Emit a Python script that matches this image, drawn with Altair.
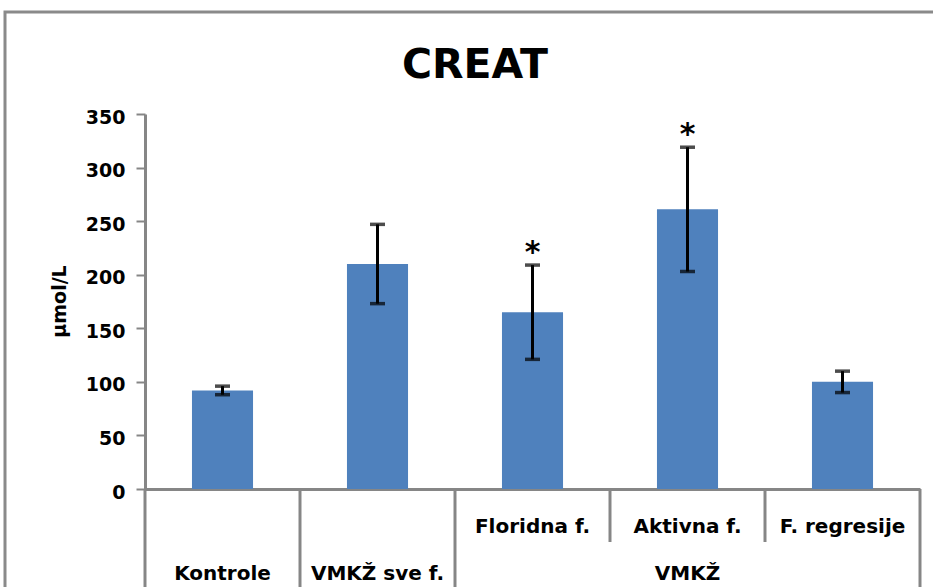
import altair as alt
import pandas as pd

# Creatinine by group: mean and error (µmol/L)
categories = ["Kontrole", "VMKŽ sve f.", "Floridna f.", "Aktivna f.", "F. regresije"]
means = [92, 210, 165, 261, 100]
errors = [4, 37, 44, 58, 10]
marks = ["", "", "*", "*", ""]

# Two-level category axis: inner labels (upper row) and outer labels (lower row)
upper_labels = ["Floridna f.", "Aktivna f.", "F. regresije"]
lower_labels = ["Kontrole", "VMKŽ sve f.", "VMKŽ"]
lower_anchor = ["Kontrole", "VMKŽ sve f.", "Aktivna f."]

# Slot boundaries: full-height separators and short ones inside the VMKŽ group
full_sep_left = ["Kontrole", "VMKŽ sve f.", "Floridna f."]
short_sep_left = ["Aktivna f.", "F. regresije"]
full_sep_right = ["F. regresije"]

FONT = "DejaVu Sans"
BLUE = "#4F81BD"
GRAY = "#868686"

df = pd.DataFrame({"cat": categories, "mean": means, "err": errors, "mark": marks})
df["lo"] = df["mean"] - df["err"]
df["hi"] = df["mean"] + df["err"]

W, H = 775, 375

xscale = alt.Scale(domain=categories, paddingInner=0, paddingOuter=0)
yscale = alt.Scale(domain=[0, 350], nice=False)

x_enc = alt.X("cat:N", scale=xscale, sort=categories,
              axis=alt.Axis(labels=False, ticks=False, title="", domainColor=GRAY,
                            domainWidth=3))
y_enc = alt.Y("mean:Q", scale=yscale,
              axis=alt.Axis(values=list(range(0, 351, 50)), grid=False, title="µmol/L",
                            labelFont=FONT, labelFontWeight="bold", labelFontSize=19,
                            labelColor="black", labelPadding=11, labelOffset=3,
                            domainColor=GRAY, domainWidth=3, tickColor=GRAY,
                            tickWidth=2, tickSize=9,
                            titleFont=FONT, titleFontWeight="bold", titleFontSize=19,
                            titleColor="black", titleAngle=270, titleX=-86, titleY=187,
                            titleAlign="center", titleBaseline="middle"))

base = alt.Chart(df)

bars = base.mark_bar(color=BLUE, width=alt.RelativeBandSize(0.394)).encode(x=x_enc, y=y_enc)

err_rule = base.mark_rule(color="black", strokeWidth=3).encode(
    x=alt.X("cat:N", scale=xscale, sort=categories),
    y=alt.Y("lo:Q", scale=yscale),
    y2="hi:Q",
)

caps = base.transform_fold(["lo", "hi"], as_=["end", "val"]).mark_tick(
    color="black", thickness=3.5, size=15
).encode(
    x=alt.X("cat:N", scale=xscale, sort=categories),
    y=alt.Y("val:Q", scale=yscale),
)

stars = base.transform_filter(alt.datum.mark != "").mark_text(
    font=FONT, fontWeight="bold", fontSize=30, baseline="alphabetic", dy=-3, color="black"
).encode(
    x=alt.X("cat:N", scale=xscale, sort=categories),
    y=alt.Y("hi:Q", scale=yscale),
    text="mark:N",
)

label_style = dict(font=FONT, fontWeight="bold", fontSize=20, baseline="alphabetic",
                   color="black")

upper = alt.Chart(pd.DataFrame({"cat": upper_labels})).mark_text(**label_style).encode(
    x=alt.X("cat:N", scale=xscale, sort=categories),
    y=alt.value(419),
    text="cat:N",
)

lower = alt.Chart(pd.DataFrame({"cat": lower_anchor, "label": lower_labels})).mark_text(
    **label_style
).encode(
    x=alt.X("cat:N", scale=xscale, sort=categories),
    y=alt.value(466),
    text="label:N",
)

sep_style = dict(color=GRAY, strokeWidth=3)

sep_full = alt.Chart(pd.DataFrame({"cat": full_sep_left})).mark_rule(**sep_style).encode(
    x=alt.X("cat:N", scale=xscale, sort=categories, bandPosition=0),
    y=alt.value(H), y2=alt.value(H + 120),
)
sep_short = alt.Chart(pd.DataFrame({"cat": short_sep_left})).mark_rule(**sep_style).encode(
    x=alt.X("cat:N", scale=xscale, sort=categories, bandPosition=0),
    y=alt.value(H), y2=alt.value(H + 53),
)
sep_end = alt.Chart(pd.DataFrame({"cat": full_sep_right})).mark_rule(**sep_style).encode(
    x=alt.X("cat:N", scale=xscale, sort=categories, bandPosition=1),
    y=alt.value(H), y2=alt.value(H + 120),
)

title = alt.Chart(pd.DataFrame({"t": ["CREAT"]})).mark_text(
    font=FONT, fontWeight="bold", fontSize=41, baseline="alphabetic", align="center",
    color="black"
).encode(x=alt.value(330), y=alt.value(-36), text="t:N")

frame = alt.Chart(pd.DataFrame({"f": [0]})).mark_rect(
    fillOpacity=0, stroke="#8a8a8a", strokeWidth=3
).encode(x=alt.value(-140), x2=alt.value(W + 200), y=alt.value(-102), y2=alt.value(H + 200))

chart = alt.layer(
    frame, bars, err_rule, caps, stars, sep_full, sep_short, sep_end, upper, lower, title
).properties(
    width=W, height=H,
    autosize=alt.AutoSizeParams(type="none"),
    padding={"left": 145, "top": 114, "right": 13, "bottom": 98},
    background="white",
).configure_view(strokeWidth=0)

chart.save("out.html", embed_options={"renderer": "svg", "actions": False})
